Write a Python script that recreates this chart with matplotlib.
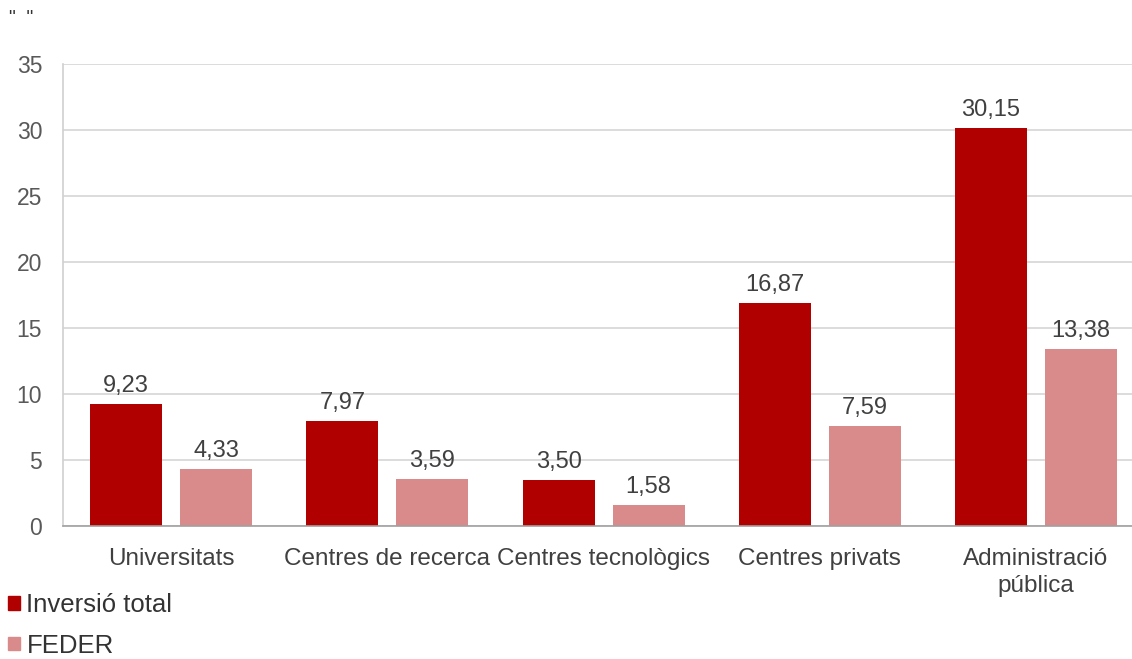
import numpy as np
import matplotlib
matplotlib.use("Agg")
import matplotlib.pyplot as plt
from matplotlib.patches import Patch

# data
categories = ["Universitats", "Centres de recerca", "Centres tecnològics",
              "Centres privats", "Administració\npública"]
inversio_total = [9.23, 7.97, 3.50, 16.87, 30.15]
feder = [4.33, 3.59, 1.58, 7.59, 13.38]
series_names = ["Inversió total", "FEDER"]
y_ticks = [0, 5, 10, 15, 20, 25, 30, 35]

dark_red = "#B00000"
light_red = "#D98A8A"

plt.rcParams["font.family"] = ["Liberation Sans", "DejaVu Sans"]

fig = plt.figure(figsize=(11.32, 6.59), dpi=100)
# plot area runs past the right edge of the picture, as in the reference
ax = fig.add_axes([0.0557, 0.2018, 0.955, 0.7012])

x = np.arange(len(categories))
w = 0.333
gap = 0.083
b1 = ax.bar(x - (w + gap) / 2, inversio_total, w, color=dark_red)
b2 = ax.bar(x + (w + gap) / 2, feder, w, color=light_red)

def fmt(v):
    return f"{v:.2f}".replace(".", ",")

for bars, vals in ((b1, inversio_total), (b2, feder)):
    for rect, v in zip(bars, vals):
        ax.annotate(fmt(v), (rect.get_x() + rect.get_width() / 2, v),
                    xytext=(0, 5), textcoords="offset points",
                    ha="center", va="bottom", fontsize=17, color="#404040")

ax.set_xlim(-0.5, len(categories) - 0.5)
ax.set_ylim(0, 35)
ax.set_yticks(y_ticks)
ax.set_yticklabels([str(t) for t in y_ticks], fontsize=16.5, color="#595959")
ax.set_xticks(x)
ax.set_xticklabels(categories, fontsize=17.5, color="#404040", linespacing=1.28)
ax.tick_params(axis="both", length=0)
ax.tick_params(axis="x", pad=16)
ax.tick_params(axis="y", pad=15)

ax.yaxis.grid(True, color="#D6D6D6", linewidth=1.2)
ax.set_axisbelow(True)
for side in ("top", "right"):
    ax.spines[side].set_visible(False)
ax.spines["left"].set_color("#D0D0D0")
ax.spines["left"].set_linewidth(1.2)
ax.spines["bottom"].set_color("#A0A0A0")
ax.spines["bottom"].set_linewidth(1.2)

fig.text(0.008, 0.972, '"  "', fontsize=14, color="#333333", va="center")

handles = [Patch(color=dark_red), Patch(color=light_red)]
fig.legend(handles, series_names, loc="lower left", bbox_to_anchor=(-0.013, -0.033),
           frameon=False, fontsize=18.5, handlelength=0.45, handleheight=0.45,
           handletextpad=0.25, labelspacing=0.65, labelcolor="#333333")

fig.savefig("out.png", dpi=100)
